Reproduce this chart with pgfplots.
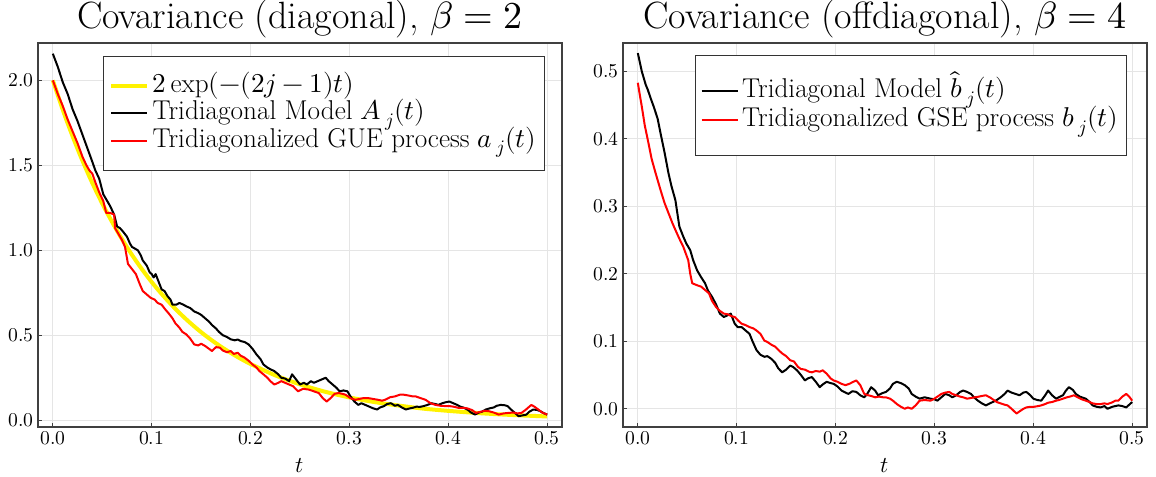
\documentclass[border=0pt]{standalone}
\usepackage{fontspec}
\usepackage{unicode-math}
\setmathfont{Latin Modern Math}
\usepackage{pgfplots}
\pgfplotsset{compat=1.18}

\pgfplotsset{
  covax/.style={
    scale only axis, width=393pt, height=288pt,
    xmin=-0.015, xmax=0.515,
    xtick={0,0.1,0.2,0.3,0.4,0.5},
    xtick pos=bottom, ytick pos=left,
    axis line style={black!75, line width=0.8pt},
    tick align=inside, major tick length=3pt,
    tick style={black!75, line width=0.6pt},
    grid=major, major grid style={black!10, line width=0.6pt},
    ticklabel style={font=\fontsize{14.7}{16}\selectfont},
    xticklabel style={/pgf/number format/.cd, fixed, fixed zerofill, precision=1},
    yticklabel style={/pgf/number format/.cd, fixed, fixed zerofill, precision=1},
    xlabel={$t$},
    xlabel style={font=\fontsize{17}{19}\selectfont, yshift=-2.5pt},
    title style={font=\fontsize{28.5}{32}\selectfont, at={(0.5,1)}, anchor=base, yshift=4.5pt},
    legend style={anchor=north east, draw=black!80, line width=0.6pt, fill=white,
      font=\fontsize{20.4}{22}\selectfont, inner xsep=4pt, inner ysep=12pt,
      row sep=0pt, cells={anchor=west},
      nodes={inner ysep=0pt, inner xsep=2.5pt, text height=15pt, text depth=5.5pt}},
    legend image code/.code={\draw[#1] (0pt,0pt) -- (27pt,0pt);},
    every axis plot/.append style={line join=round, line width=1.5pt},
  }
}

\begin{document}
\begin{tikzpicture}
\useasboundingbox (-28.5pt,-37.5pt) rectangle (838.5pt,320.25pt);
% left panel
\begin{axis}[covax, at={(0pt,0pt)}, anchor=south west,
  ymin=-0.04, ymax=2.22, ytick={0,0.5,1,1.5,2},
  title={Covariance (diagonal), $\beta=2$},
  legend style={at={(0.968,0.966)}}]
\addplot[yellow, line width=3pt, smooth] coordinates {
(0,2.0)(0.0125,1.787)(0.025,1.597)(0.0375,1.427)(0.05,1.275)(0.0625,1.140)
(0.075,1.018)(0.0875,0.910)(0.1,0.813)(0.1125,0.727)(0.125,0.649)(0.1375,0.580)
(0.15,0.518)(0.1625,0.463)(0.175,0.414)(0.1875,0.370)(0.2,0.331)(0.225,0.264)
(0.25,0.211)(0.275,0.168)(0.3,0.134)(0.325,0.107)(0.35,0.086)(0.375,0.068)
(0.4,0.055)(0.425,0.044)(0.45,0.035)(0.475,0.028)(0.5,0.022)};
\addlegendentry{$2\exp(-(2j-1)t)$}
\addplot[black] coordinates {
(0,2.157)(0.005,2.08)(0.01,1.99)(0.015,1.92)(0.02,1.83)(0.025,1.76)(0.03,1.68)
(0.035,1.60)(0.04,1.52)(0.043,1.47)(0.047,1.42)(0.051,1.33)(0.055,1.29)(0.058,1.26)
(0.062,1.21)(0.065,1.14)(0.068,1.13)(0.071,1.11)(0.075,1.08)(0.078,1.04)(0.08,1.02)
(0.083,1.01)(0.086,1.0)(0.089,0.97)(0.091,0.94)(0.095,0.91)(0.098,0.87)(0.100,0.86)
(0.102,0.84)(0.104,0.86)(0.106,0.83)(0.108,0.80)(0.110,0.77)(0.113,0.76)(0.116,0.73)
(0.119,0.71)(0.121,0.68)(0.125,0.68)(0.128,0.69)(0.132,0.68)(0.135,0.67)(0.139,0.66)
(0.143,0.64)(0.147,0.63)(0.150,0.62)(0.154,0.60)(0.158,0.58)(0.161,0.56)(0.165,0.54)
(0.168,0.52)(0.172,0.50)(0.176,0.49)(0.18,0.476)(0.184,0.47)(0.187,0.475)(0.19,0.466)
(0.194,0.46)(0.198,0.446)(0.202,0.42)(0.206,0.387)(0.21,0.36)(0.213,0.328)(0.217,0.31)
(0.22,0.30)(0.224,0.289)(0.228,0.27)(0.231,0.25)(0.235,0.245)(0.239,0.23)(0.242,0.27)
(0.246,0.24)(0.25,0.21)(0.254,0.22)(0.257,0.21)(0.261,0.23)(0.264,0.22)(0.268,0.23)
(0.272,0.24)(0.276,0.25)(0.279,0.23)(0.283,0.21)(0.287,0.19)(0.29,0.17)(0.294,0.175)
(0.298,0.17)(0.301,0.14)(0.305,0.11)(0.309,0.09)(0.312,0.10)(0.316,0.09)(0.32,0.08)
(0.324,0.07)(0.328,0.063)(0.331,0.075)(0.335,0.083)(0.338,0.095)(0.342,0.10)(0.346,0.085)
(0.349,0.09)(0.353,0.075)(0.357,0.063)(0.36,0.068)(0.364,0.073)(0.368,0.08)(0.371,0.078)
(0.375,0.083)(0.379,0.09)(0.383,0.10)(0.387,0.095)(0.39,0.09)(0.394,0.10)(0.397,0.105)
(0.401,0.11)(0.405,0.10)(0.409,0.09)(0.412,0.08)(0.416,0.073)(0.42,0.06)(0.423,0.045)
(0.427,0.033)(0.431,0.045)(0.434,0.05)(0.438,0.063)(0.442,0.07)(0.446,0.075)(0.449,0.085)
(0.453,0.09)(0.457,0.088)(0.46,0.083)(0.464,0.06)(0.468,0.04)(0.471,0.024)(0.475,0.028)
(0.479,0.033)(0.482,0.05)(0.486,0.063)(0.49,0.060)(0.493,0.053)(0.497,0.04)(0.5,0.033)};
\addlegendentry{Tridiagonal Model $A_{\:j}(t)$}
\addplot[red] coordinates {
(0,2.0)(0.005,1.92)(0.01,1.85)(0.015,1.77)(0.02,1.70)(0.025,1.63)(0.03,1.55)
(0.034,1.50)(0.037,1.47)(0.04,1.45)(0.043,1.40)(0.047,1.34)(0.051,1.29)(0.054,1.22)
(0.058,1.22)(0.062,1.21)(0.063,1.13)(0.066,1.10)(0.07,1.06)(0.073,1.02)(0.076,0.92)
(0.08,0.89)(0.084,0.86)(0.088,0.80)(0.091,0.76)(0.095,0.74)(0.099,0.72)(0.103,0.71)
(0.106,0.69)(0.11,0.68)(0.114,0.65)(0.117,0.63)(0.121,0.60)(0.124,0.57)(0.128,0.545)
(0.131,0.52)(0.135,0.505)(0.139,0.48)(0.143,0.446)(0.147,0.44)(0.15,0.45)(0.154,0.437)
(0.158,0.42)(0.161,0.407)(0.165,0.43)(0.169,0.427)(0.172,0.41)(0.176,0.40)(0.18,0.407)
(0.183,0.39)(0.187,0.397)(0.19,0.38)(0.194,0.368)(0.198,0.35)(0.202,0.328)(0.206,0.31)
(0.209,0.289)(0.213,0.27)(0.217,0.25)(0.22,0.23)(0.224,0.21)(0.228,0.22)(0.231,0.23)
(0.235,0.22)(0.239,0.21)(0.243,0.20)(0.248,0.17)(0.253,0.185)(0.259,0.18)(0.264,0.17)
(0.269,0.16)(0.273,0.13)(0.277,0.11)(0.281,0.13)(0.285,0.155)(0.289,0.16)(0.293,0.155)
(0.296,0.15)(0.301,0.13)(0.306,0.12)(0.31,0.125)(0.314,0.13)(0.319,0.13)(0.324,0.125)
(0.329,0.12)(0.333,0.115)(0.336,0.12)(0.341,0.135)(0.346,0.14)(0.351,0.15)(0.355,0.15)
(0.36,0.145)(0.364,0.14)(0.367,0.14)(0.372,0.13)(0.377,0.12)(0.382,0.10)(0.387,0.09)
(0.392,0.085)(0.397,0.083)(0.401,0.083)(0.405,0.08)(0.41,0.073)(0.414,0.073)(0.419,0.07)
(0.424,0.06)(0.428,0.043)(0.433,0.05)(0.437,0.055)(0.441,0.053)(0.446,0.045)(0.451,0.033)
(0.456,0.04)(0.461,0.043)(0.466,0.045)(0.47,0.04)(0.474,0.043)(0.478,0.06)(0.482,0.08)
(0.484,0.09)(0.487,0.08)(0.491,0.063)(0.495,0.045)(0.5,0.033)};
\addlegendentry{Tridiagonalized GUE process $a_{\:j}(t)$}
\end{axis}
% right panel
\begin{axis}[covax, at={(438.75pt,0pt)}, anchor=south west,
  ymin=-0.027, ymax=0.542, ytick={0,0.1,0.2,0.3,0.4,0.5},
  title={Covariance (offdiagonal), $\beta=4$},
  legend style={at={(0.962,0.969)}, inner ysep=16pt,
    nodes={text height=16pt, text depth=5.5pt}}]
\addplot[black] coordinates {
(0,0.527)(0.004,0.50)(0.008,0.48)(0.01,0.473)(0.013,0.46)(0.016,0.448)(0.02,0.43)
(0.023,0.408)(0.027,0.38)(0.031,0.349)(0.034,0.33)(0.038,0.309)(0.042,0.27)(0.046,0.255)
(0.049,0.245)(0.053,0.235)(0.056,0.22)(0.06,0.205)(0.064,0.195)(0.068,0.186)(0.071,0.175)
(0.075,0.166)(0.079,0.155)(0.083,0.141)(0.087,0.136)(0.09,0.138)(0.094,0.141)(0.098,0.126)
(0.101,0.121)(0.105,0.121)(0.109,0.116)(0.113,0.111)(0.116,0.1)(0.12,0.087)(0.124,0.08)
(0.128,0.077)(0.131,0.078)(0.135,0.074)(0.139,0.068)(0.142,0.06)(0.146,0.054)(0.15,0.058)
(0.154,0.064)(0.157,0.062)(0.161,0.057)(0.165,0.05)(0.169,0.042)(0.172,0.045)(0.176,0.047)
(0.18,0.04)(0.184,0.032)(0.187,0.036)(0.191,0.04)(0.195,0.038)(0.198,0.037)(0.202,0.033)
(0.206,0.027)(0.21,0.024)(0.213,0.022)(0.217,0.026)(0.221,0.025)(0.225,0.02)(0.229,0.017)
(0.232,0.022)(0.236,0.032)(0.24,0.027)(0.243,0.02)(0.247,0.023)(0.251,0.025)(0.255,0.03)
(0.258,0.037)(0.262,0.040)(0.266,0.038)(0.27,0.035)(0.274,0.03)(0.277,0.022)(0.281,0.018)
(0.285,0.015)(0.29,0.017)(0.296,0.015)(0.3,0.014)(0.303,0.012)(0.307,0.017)(0.311,0.022)
(0.315,0.02)(0.318,0.017)(0.322,0.02)(0.326,0.025)(0.329,0.027)(0.333,0.025)(0.337,0.022)
(0.34,0.017)(0.344,0.012)(0.348,0.008)(0.352,0.005)(0.356,0.008)(0.359,0.01)(0.363,0.013)
(0.367,0.017)(0.371,0.022)(0.374,0.027)(0.378,0.024)(0.382,0.022)(0.386,0.02)(0.39,0.024)
(0.393,0.025)(0.397,0.02)(0.4,0.015)(0.404,0.013)(0.408,0.012)(0.412,0.02)(0.415,0.027)
(0.419,0.02)(0.423,0.015)(0.427,0.018)(0.43,0.02)(0.433,0.027)(0.436,0.032)(0.44,0.028)
(0.443,0.022)(0.447,0.018)(0.453,0.015)(0.457,0.01)(0.46,0.005)(0.464,0.003)(0.468,0.002)
(0.472,0.004)(0.475,0.0)(0.48,0.003)(0.486,0.005)(0.49,0.004)(0.494,0.002)(0.497,0.006)
(0.5,0.010)};
\addlegendentry{Tridiagonal Model $\hat{b}_{\:j}(t)$}
\addplot[red] coordinates {
(0,0.483)(0.002,0.465)(0.004,0.448)(0.007,0.42)(0.01,0.399)(0.014,0.37)(0.018,0.349)
(0.023,0.324)(0.027,0.305)(0.031,0.290)(0.035,0.275)(0.038,0.265)(0.042,0.252)(0.046,0.240)
(0.049,0.228)(0.051,0.220)(0.053,0.20)(0.055,0.186)(0.06,0.183)(0.064,0.181)(0.068,0.176)
(0.072,0.171)(0.075,0.16)(0.079,0.151)(0.083,0.145)(0.087,0.141)(0.091,0.14)(0.095,0.137)
(0.098,0.136)(0.102,0.13)(0.105,0.126)(0.109,0.124)(0.113,0.121)(0.117,0.119)(0.12,0.116)
(0.124,0.111)(0.128,0.101)(0.131,0.099)(0.135,0.095)(0.139,0.092)(0.143,0.086)(0.146,0.082)
(0.15,0.078)(0.154,0.072)(0.158,0.07)(0.162,0.062)(0.165,0.059)(0.169,0.058)(0.173,0.055)
(0.176,0.054)(0.18,0.056)(0.184,0.055)(0.187,0.057)(0.191,0.052)(0.195,0.045)(0.198,0.042)
(0.202,0.04)(0.206,0.037)(0.21,0.035)(0.214,0.037)(0.218,0.04)(0.221,0.042)(0.225,0.035)
(0.229,0.022)(0.233,0.02)(0.236,0.019)(0.24,0.017)(0.244,0.018)(0.248,0.017)(0.251,0.017)
(0.255,0.015)(0.258,0.012)(0.262,0.007)(0.266,0.003)(0.27,0.0)(0.273,0.002)(0.277,0.0)
(0.281,0.005)(0.285,0.012)(0.29,0.013)(0.296,0.012)(0.3,0.015)(0.303,0.018)(0.307,0.022)
(0.311,0.024)(0.315,0.025)(0.318,0.022)(0.322,0.02)(0.326,0.018)(0.329,0.017)(0.333,0.015)
(0.337,0.016)(0.341,0.017)(0.345,0.018)(0.348,0.019)(0.352,0.020)(0.356,0.017)(0.36,0.013)
(0.363,0.010)(0.367,0.008)(0.371,0.006)(0.374,0.005)(0.378,0.0)(0.383,-0.007)(0.387,-0.003)
(0.39,0.0)(0.393,0.002)(0.397,0.003)(0.401,0.003)(0.405,0.004)(0.408,0.005)(0.412,0.007)
(0.415,0.009)(0.419,0.01)(0.423,0.012)(0.426,0.013)(0.43,0.015)(0.434,0.017)(0.437,0.018)
(0.441,0.02)(0.445,0.017)(0.449,0.014)(0.453,0.012)(0.457,0.01)(0.46,0.008)(0.464,0.007)
(0.468,0.007)(0.472,0.008)(0.475,0.007)(0.479,0.009)(0.483,0.012)(0.486,0.012)(0.49,0.018)
(0.494,0.022)(0.497,0.018)(0.5,0.012)};
\addlegendentry{Tridiagonalized GSE process $b_{\:j}(t)$}
\end{axis}
\end{tikzpicture}
\end{document}
